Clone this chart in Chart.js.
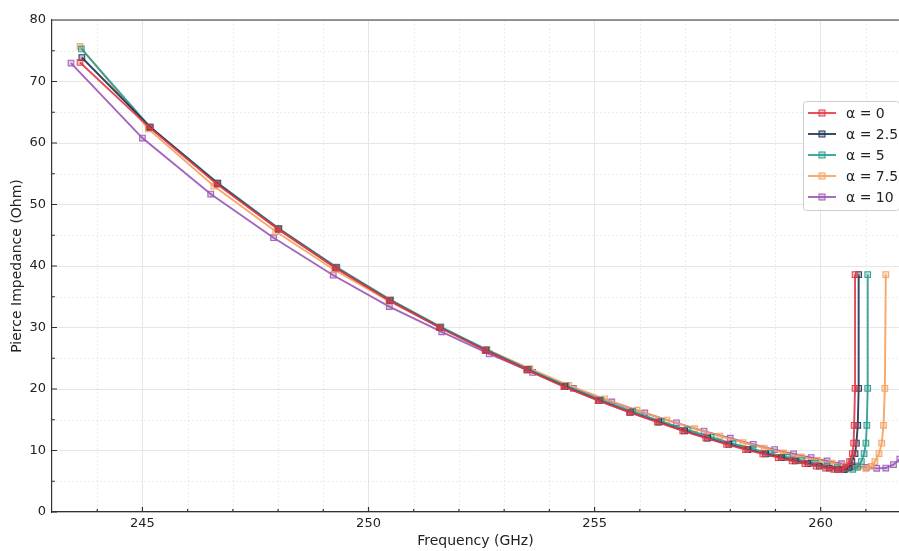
<!DOCTYPE html>
<html><head><meta charset="utf-8">
<script src="https://cdn.jsdelivr.net/npm/chart.js@4/dist/chart.umd.min.js"></script>
<style>html,body{margin:0;padding:0;background:#fff;overflow:hidden}#wrap{width:899px;height:551px;position:relative;overflow:hidden}</style>
</head><body><div id="wrap"><canvas id="c" width="904" height="551"></canvas></div>
<script>
const seriesLabels = ['α = 0', 'α = 2.5', 'α = 5', 'α = 7.5', 'α = 10'];
const seriesColors = ['#e63946', '#1d3557', '#2a9d8f', '#f4a261', '#9b59b6'];

const freqA0 = [243.62,245.16,246.65,248.00,249.27,250.46,251.57,252.58,253.50,254.32,255.08,255.77,256.39,256.95,257.46,257.92,258.34,258.72,259.06,259.37,259.65,259.90,260.11,260.29,260.44,260.56,260.64,260.70,260.73,260.74,260.76,260.76];
const zA0    = [73.1,62.5,53.3,46.0,39.7,34.4,30.0,26.3,23.1,20.4,18.1,16.2,14.6,13.2,12.0,11.0,10.15,9.45,8.85,8.3,7.85,7.45,7.15,6.95,6.9,7.25,8.2,9.5,11.2,14.1,20.1,38.6];

const freqA25 = [243.66,245.17,246.66,248.01,249.28,250.47,251.58,252.59,253.51,254.34,255.10,255.79,256.42,256.99,257.50,257.97,258.39,258.78,259.13,259.44,259.72,259.97,260.19,260.37,260.52,260.63,260.69,260.76,260.79,260.82,260.84,260.84];
const zA25    = [73.9,62.6,53.4,46.0,39.7,34.4,30.0,26.3,23.1,20.4,18.1,16.2,14.6,13.2,12.0,11.0,10.15,9.45,8.85,8.3,7.85,7.45,7.15,6.95,6.9,7.25,8.2,9.5,11.2,14.1,20.1,38.6];

const freqA5 = [243.65,245.17,246.67,248.02,249.30,250.49,251.60,252.61,253.54,254.37,255.14,255.84,256.47,257.05,257.58,258.06,258.50,258.90,259.26,259.59,259.88,260.14,260.37,260.56,260.71,260.82,260.90,260.96,261.00,261.02,261.04,261.04];
const zA5    = [75.3,62.6,53.5,46.1,39.8,34.5,30.1,26.4,23.2,20.5,18.2,16.35,14.75,13.35,12.15,11.1,10.25,9.5,8.9,8.35,7.9,7.5,7.2,7.0,6.95,7.3,8.2,9.5,11.2,14.1,20.1,38.6];

const freqA75 = [243.62,245.13,246.58,247.95,249.24,250.45,251.58,252.62,253.57,254.43,255.22,255.94,256.60,257.21,257.77,258.28,258.75,259.18,259.57,259.93,260.25,260.54,260.79,261.00,261.12,261.20,261.29,261.35,261.39,261.42,261.44];
const zA75    = [75.7,62.3,53.0,45.6,39.4,34.3,30.0,26.4,23.3,20.6,18.4,16.55,14.95,13.55,12.35,11.3,10.4,9.6,8.95,8.4,7.95,7.55,7.25,7.1,7.4,8.2,9.5,11.2,14.1,20.1,38.6];

const freqA10 = [243.42,245.00,246.51,247.90,249.22,250.46,251.62,252.67,253.63,254.53,255.38,256.11,256.81,257.42,258.00,258.51,258.98,259.40,259.79,260.14,260.46,260.75,261.01,261.24,261.44,261.61,261.75,261.87];
const zA10    = [73.0,60.8,51.7,44.6,38.5,33.4,29.3,25.7,22.7,20.1,17.9,16.1,14.5,13.15,12.0,11.0,10.15,9.45,8.85,8.3,7.85,7.5,7.25,7.1,7.15,7.7,8.6,9.7];

const xMajorTicks = [245, 250, 255, 260];
const xMinorTicks = [244, 246, 247, 248, 249, 251, 252, 253, 254, 256, 257, 258, 259, 261];
const yMajorTicks = [0, 10, 20, 30, 40, 50, 60, 70, 80];
const yMinorTicks = [5, 15, 25, 35, 45, 55, 65, 75];
const xLabel = 'Frequency (GHz)';
const yLabel = 'Pierce Impedance (Ohm)';

const freqs = [freqA0, freqA25, freqA5, freqA75, freqA10];
const zs = [zA0, zA25, zA5, zA75, zA10];

function rgba(hex, a) {
  const n = parseInt(hex.slice(1), 16);
  return `rgba(${(n >> 16) & 255},${(n >> 8) & 255},${n & 255},${a})`;
}

const datasets = seriesLabels.map((lab, i) => ({
  label: lab,
  data: freqs[i].map((f, j) => ({ x: f, y: zs[i][j] })),
  showLine: true,
  borderColor: rgba(seriesColors[i], 0.92),
  backgroundColor: rgba(seriesColors[i], 0.35),
  borderWidth: 1.9,
  pointStyle: 'rect',
  pointRadius: 4,
  pointBorderWidth: 1.1,
  pointBorderColor: rgba(seriesColors[i], 0.9),
  pointBackgroundColor: rgba(seriesColors[i], 0.3),
  tension: 0
}));

const FONT = "'DejaVu Sans', sans-serif";

const framePlugin = {
  id: 'frame',
  beforeDatasetsDraw(chart) {
    const { ctx, chartArea: a, scales: { x, y } } = chart;
    ctx.save();
    ctx.strokeStyle = 'rgba(0,0,0,0.07)';
    ctx.lineWidth = 1;
    ctx.setLineDash([2, 2]);
    ctx.beginPath();
    xMinorTicks.forEach(v => {
      const px = Math.round(x.getPixelForValue(v)) + 0.5;
      ctx.moveTo(px, a.top); ctx.lineTo(px, a.bottom);
    });
    yMinorTicks.forEach(v => {
      const py = Math.round(y.getPixelForValue(v)) + 0.5;
      ctx.moveTo(a.left, py); ctx.lineTo(a.right, py);
    });
    ctx.stroke();
    ctx.restore();
  },
  afterDatasetsDraw(chart) {
    const { ctx, chartArea: a, scales: { x, y } } = chart;
    ctx.save();
    ctx.strokeStyle = '#333';
    ctx.lineWidth = 1.2;
    ctx.beginPath();
    ctx.moveTo(a.left, a.top); ctx.lineTo(a.right, a.top);
    xMajorTicks.forEach(v => { const px = x.getPixelForValue(v); ctx.moveTo(px, a.bottom); ctx.lineTo(px, a.bottom - 5); });
    xMinorTicks.forEach(v => { const px = x.getPixelForValue(v); ctx.moveTo(px, a.bottom); ctx.lineTo(px, a.bottom - 3); });
    yMajorTicks.forEach(v => { const py = y.getPixelForValue(v); ctx.moveTo(a.left, py); ctx.lineTo(a.left + 5, py); });
    yMinorTicks.forEach(v => { const py = y.getPixelForValue(v); ctx.moveTo(a.left, py); ctx.lineTo(a.left + 3, py); });
    ctx.stroke();
    ctx.restore();
  },
  afterDraw(chart) {
    const { ctx } = chart;
    const bx = 803, by = 101, bw = 96, bh = 109;
    ctx.save();
    ctx.fillStyle = 'rgba(255,255,255,0.85)';
    ctx.strokeStyle = '#cccccc';
    ctx.lineWidth = 1;
    ctx.beginPath();
    ctx.roundRect(bx + 0.5, by + 0.5, bw, bh, 3);
    ctx.fill(); ctx.stroke();
    ctx.font = `14px ${FONT}`;
    ctx.textBaseline = 'middle';
    ctx.textAlign = 'left';
    chart.data.datasets.forEach((ds, i) => {
      const yy = 113 + i * 21;
      ctx.strokeStyle = ds.borderColor;
      ctx.lineWidth = 1.9;
      ctx.beginPath(); ctx.moveTo(808, yy); ctx.lineTo(836, yy); ctx.stroke();
      ctx.fillStyle = ds.pointBackgroundColor;
      ctx.strokeStyle = ds.pointBorderColor;
      ctx.lineWidth = 1.1;
      ctx.fillRect(819, yy - 3, 6, 6);
      ctx.strokeRect(819, yy - 3, 6, 6);
      ctx.fillStyle = '#222';
      ctx.fillText(ds.label, 846, yy + 1);
    });
    ctx.restore();
  }
};

new Chart(document.getElementById('c'), {
  type: 'scatter',
  data: { datasets },
  options: {
    responsive: false,
    devicePixelRatio: 1,
    animation: false,
    layout: { padding: { top: 20, left: 0, right: 0, bottom: 0 } },
    plugins: { legend: { display: false }, tooltip: { enabled: false } },
    scales: {
      x: {
        type: 'linear', min: 243, max: 261.73,
        afterBuildTicks: s => { s.ticks = xMajorTicks.map(v => ({ value: v })); },
        afterFit: s => { s.height = 39; s.paddingLeft = 0; s.paddingRight = 0; },
        ticks: { font: { family: FONT, size: 13 }, color: '#222', padding: 4, maxRotation: 0, autoSkip: false },
        grid: { color: '#e6e6e6', lineWidth: 1, drawTicks: false },
        border: { display: true, color: '#333', width: 1.2 },
        title: { display: true, text: xLabel, font: { family: FONT, size: 14 }, color: '#222', padding: { top: 0, bottom: 1 } }
      },
      y: {
        type: 'linear', min: 0, max: 80,
        afterBuildTicks: s => { s.ticks = yMajorTicks.map(v => ({ value: v })); },
        afterFit: s => { s.width = 52; s.paddingTop = 0; s.paddingBottom = 0; },
        ticks: { font: { family: FONT, size: 13 }, color: '#222', padding: 6 },
        grid: { color: '#e6e6e6', lineWidth: 1, drawTicks: false },
        border: { display: true, color: '#333', width: 1.2 },
        title: { display: true, text: yLabel, font: { family: FONT, size: 14 }, color: '#222', padding: { top: 9, bottom: 0 } }
      }
    }
  },
  plugins: [framePlugin]
});
</script>
</body></html>
